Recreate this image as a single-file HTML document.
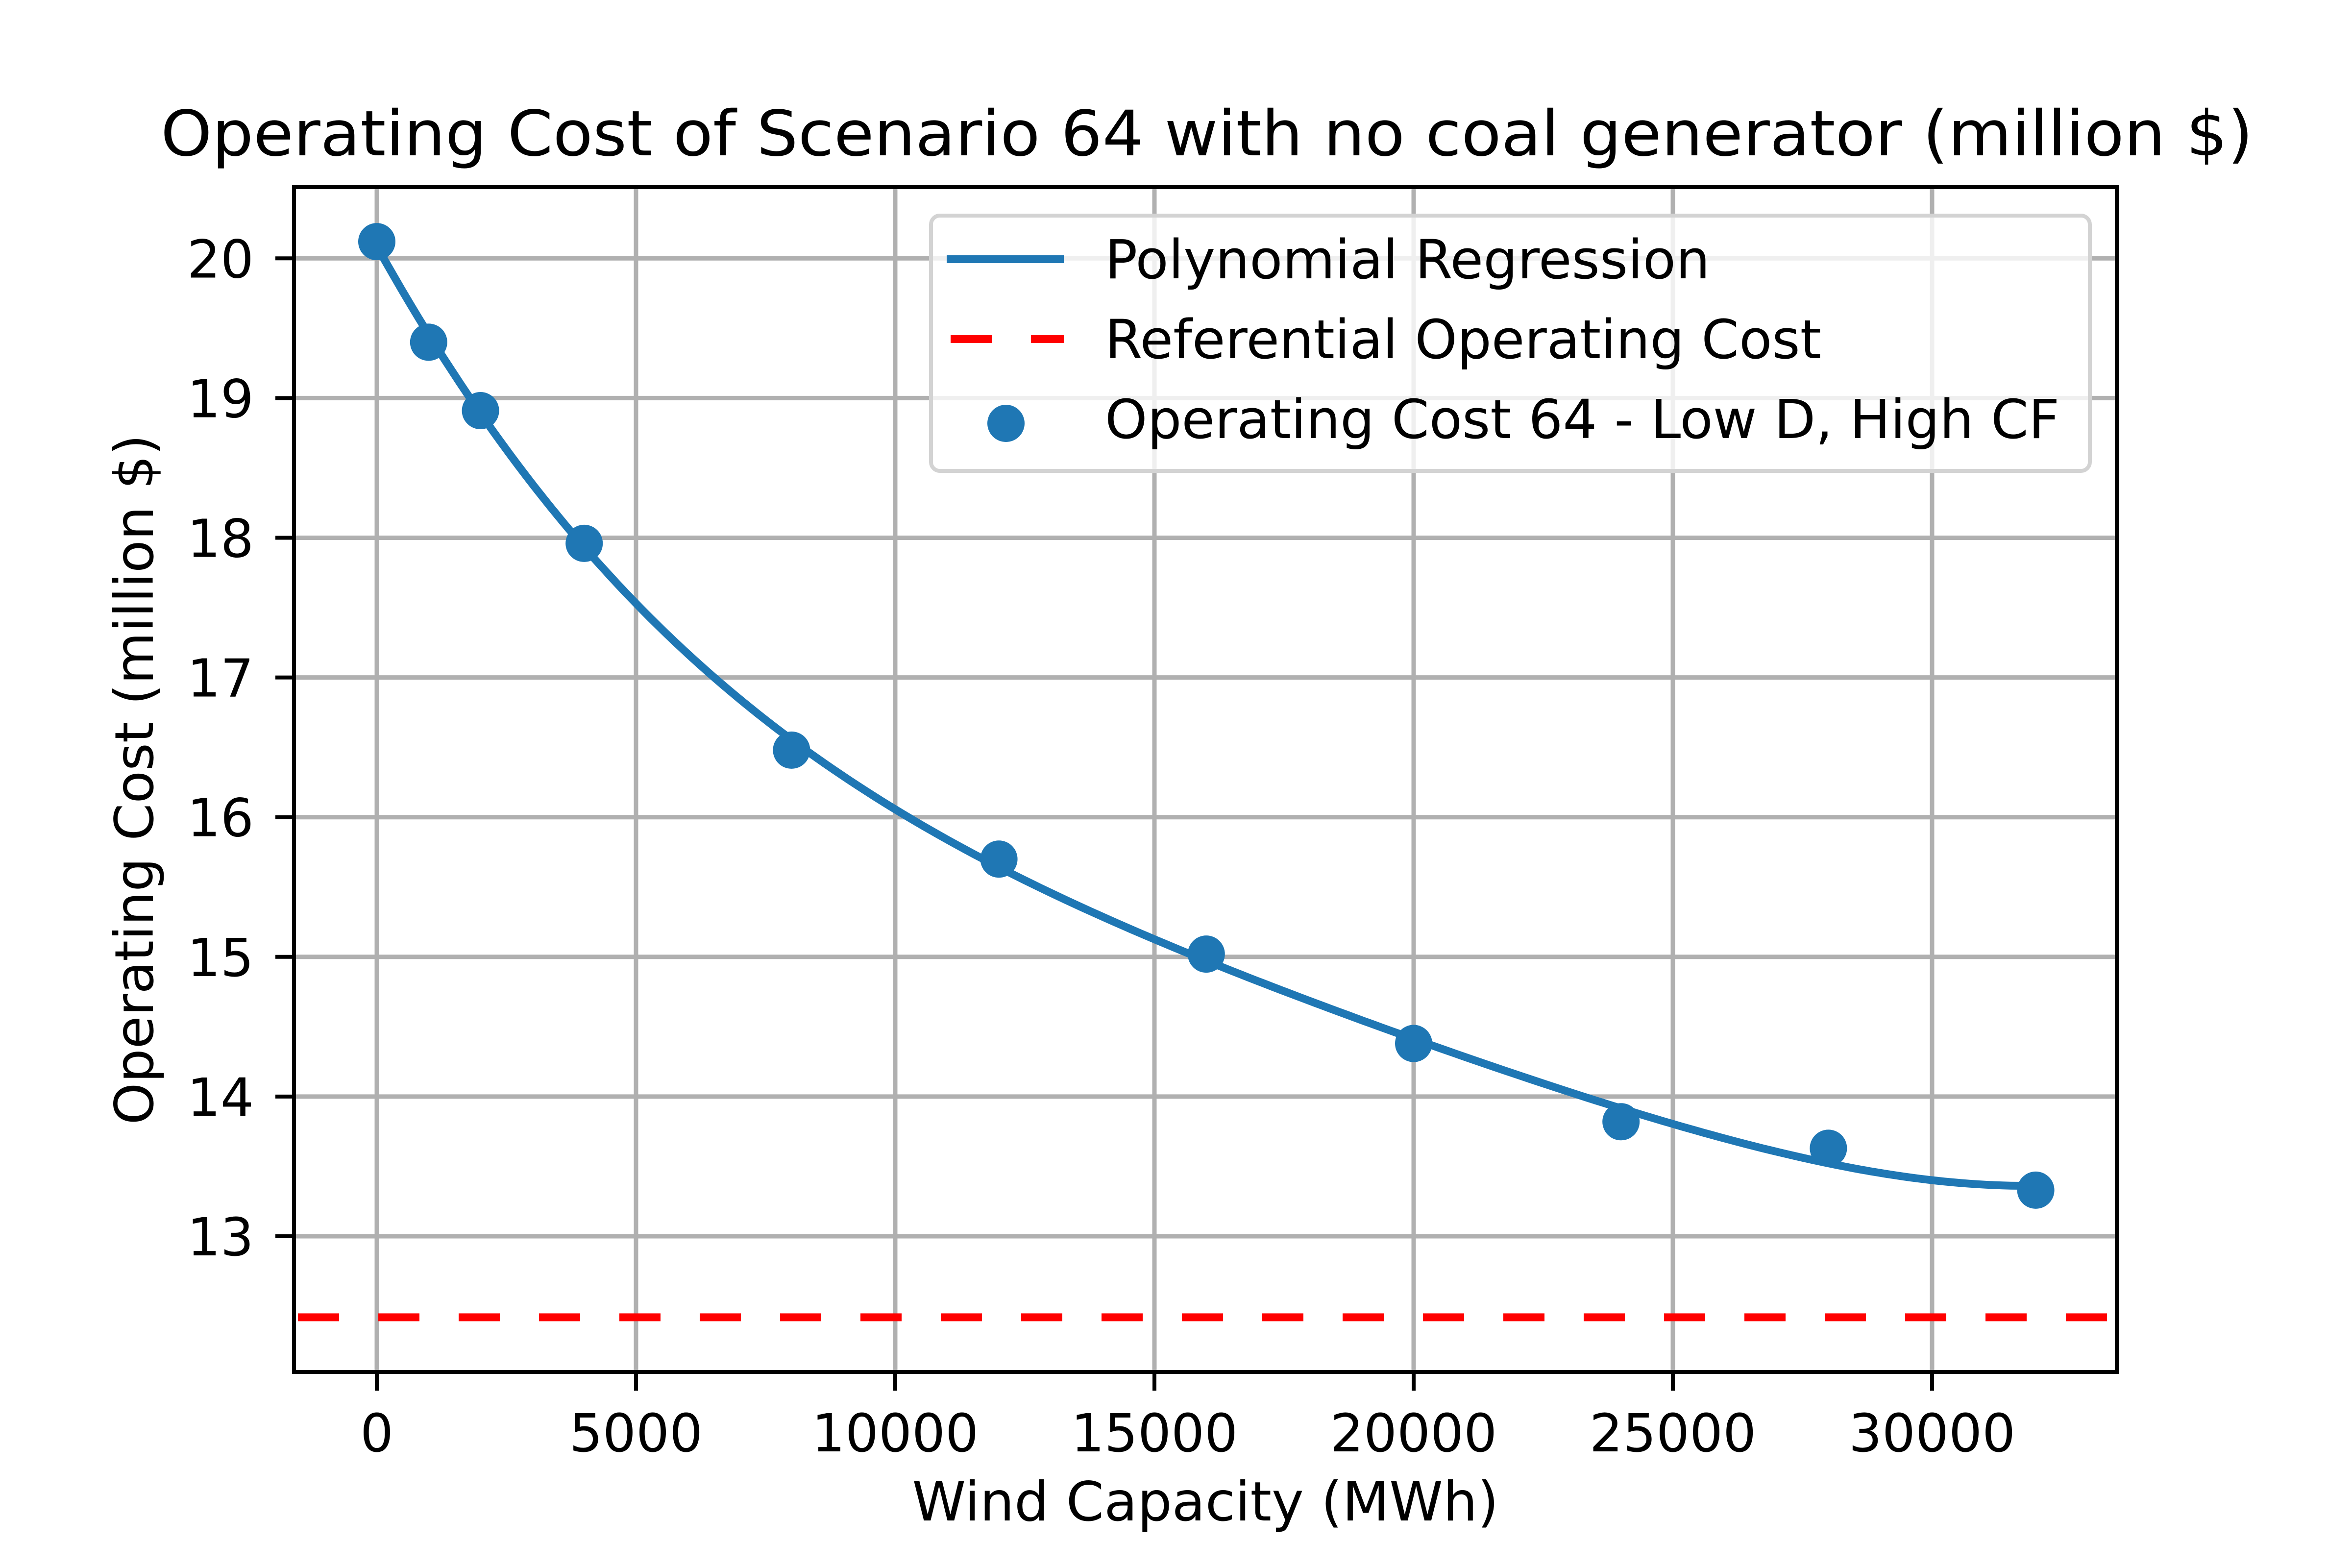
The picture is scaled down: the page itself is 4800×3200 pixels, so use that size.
<!DOCTYPE html>
<html><head><meta charset="utf-8"><style>
html,body{margin:0;padding:0;background:#fff}
svg{display:block}
text{font-family:"DejaVu Sans","Liberation Sans",sans-serif;fill:#000}
</style></head><body>
<svg id="chart" width="4800" height="3200" viewBox="0 0 4800 3200" xmlns="http://www.w3.org/2000/svg">
<rect x="0" y="0" width="4800" height="3200" fill="#fff"/>
<g id="grid"></g>
<g id="ticks"></g>
<g id="marks"></g>
<rect x="600" y="382" width="3720" height="2418" fill="none" stroke="#000" stroke-width="8"/>
<text x="2463" y="317" font-size="128" text-anchor="middle" textLength="4270" lengthAdjust="spacingAndGlyphs">Operating Cost of Scenario 64 with no coal generator (million $)</text>
<text x="2460" y="3103" font-size="111" text-anchor="middle">Wind Capacity (MWh)</text>
<text transform="translate(312,1591) rotate(-90)" font-size="109" text-anchor="middle">Operating Cost (million $)</text>
<g>
<rect x="1900" y="440" width="2365" height="521" rx="18" fill="#fff" fill-opacity="0.8" stroke="#d3d3d3" stroke-width="8"/>
<line x1="1932" y1="529" x2="2171" y2="529" stroke="#1f77b4" stroke-width="16"/>
<text x="2255" y="568" font-size="110">Polynomial Regression</text>
<line x1="1940" y1="692" x2="2171" y2="692" stroke="#ff0000" stroke-width="16" stroke-dasharray="84 80"/>
<text x="2255" y="731" font-size="110">Referential Operating Cost</text>
<circle cx="2053" cy="864" r="38" fill="#1f77b4"/>
<text x="2255" y="894" font-size="110">Operating Cost 64 - Low D, High CF</text>
</g>
</svg>
<script>
const xData = [0,1000,2000,4000,8000,12000,16000,20000,24000,28000,32000];
const yData = [20.12,19.4,18.91,17.96,16.48,15.7,15.02,14.38,13.82,13.63,13.33];
const refCost = [12.42];
const xTicks = [0,5000,10000,15000,20000,25000,30000];
const yTicks = [13,14,15,16,17,18,19,20];
const NS='http://www.w3.org/2000/svg';
function X(v){return 769+(v/5000)*529;}
function Y(v){return 2523-(v-13)*285.1;}
function mk(tag,attrs,parent){const e=document.createElementNS(NS,tag);for(const k in attrs)e.setAttribute(k,attrs[k]);parent.appendChild(e);return e;}
const grid=document.getElementById('grid'),ticks=document.getElementById('ticks'),marks=document.getElementById('marks');
xTicks.forEach(t=>{
  const g=mk('line',{x1:X(t),x2:X(t),y1:382,y2:2800,stroke:'#b0b0b0','stroke-width':9},grid);
  
  
  const tk=mk('line',{x1:X(t),x2:X(t),y1:2800,y2:2838,stroke:'#000','stroke-width':8},ticks);
  
  
  const tx=mk('text',{x:X(t),y:2962,'font-size':107,'text-anchor':'middle'},ticks);
  tx.textContent=String(t);
  
  
});
yTicks.forEach(t=>{
  const g=mk('line',{x1:600,x2:4320,y1:Y(t),y2:Y(t),stroke:'#b0b0b0','stroke-width':9},grid);
  
  
  const tk=mk('line',{x1:562,x2:600,y1:Y(t),y2:Y(t),stroke:'#000','stroke-width':8},ticks);
  
  
  const tx=mk('text',{x:518,y:Y(t)+39,'font-size':107,'text-anchor':'end'},ticks);
  tx.textContent=String(t);
  
  
});
const ref=mk('line',{x1:604,x2:4316,y1:Y(refCost[0]),y2:Y(refCost[0]),stroke:'#ff0000','stroke-width':16,'stroke-dasharray':'84 80','stroke-dashoffset':-4},marks);


function fit(deg){
  const s=32000,n=deg+1,A=[],b=[];
  for(let i=0;i<n;i++){A.push(new Array(n).fill(0));b.push(0);}
  xData.forEach((x,k)=>{const u=x/s;for(let i=0;i<n;i++){b[i]+=yData[k]*Math.pow(u,i);for(let j=0;j<n;j++)A[i][j]+=Math.pow(u,i+j);}});
  for(let i=0;i<n;i++){let p=i;for(let r=i+1;r<n;r++)if(Math.abs(A[r][i])>Math.abs(A[p][i]))p=r;[A[i],A[p]]=[A[p],A[i]];[b[i],b[p]]=[b[p],b[i]];
    for(let r=0;r<n;r++){if(r===i)continue;const f=A[r][i]/A[i][i];for(let c=i;c<n;c++)A[r][c]-=f*A[i][c];b[r]-=f*b[i];}}
  const c=b.map((v,i)=>v/A[i][i]);
  return x=>{const u=x/s;let y=0;for(let i=0;i<n;i++)y+=c[i]*Math.pow(u,i);return y;};
}
const f=fit(4);
let d='';
const x0=xData[0],x1=xData[xData.length-1];
for(let i=0;i<=200;i++){const x=x0+(x1-x0)*i/200;d+=(i?'L':'M')+X(x).toFixed(1)+' '+Y(f(x)).toFixed(1);}
const path=mk('path',{d:d,fill:'none',stroke:'#1f77b4','stroke-width':16,'stroke-linejoin':'round'},marks);


xData.forEach((x,i)=>{
  const c=mk('circle',{cx:X(x),cy:Y(yData[i]),r:38,fill:'#1f77b4'},marks);
  
  
});
</script>
</body></html>
